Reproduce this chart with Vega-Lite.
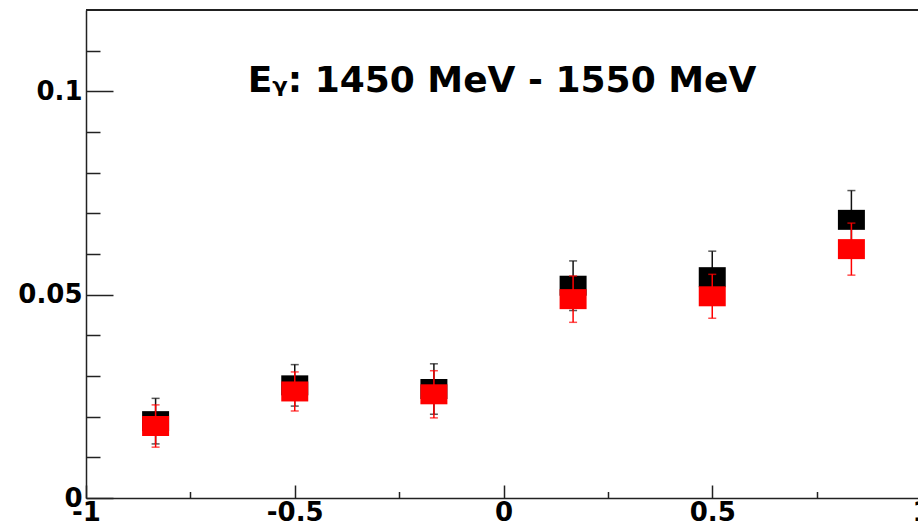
{
  "$schema": "https://vega.github.io/schema/vega-lite/v6.json",
  "autosize": {"type": "none"},
  "padding": {"left": 86, "top": 10, "right": 0, "bottom": 29},
  "width": 832,
  "height": 488,
  "background": "white",
  "config": {"view": {"stroke": null}},
  "title": {
    "text": "Eᵧ: 1450 MeV - 1550 MeV",
    "font": "DejaVu Sans",
    "fontSize": 36,
    "fontWeight": "bold",
    "color": "#000000",
    "anchor": "middle",
    "frame": "group",
    "baseline": "alphabetic",
    "offset": -119
  },
  "data": {
    "values": [
      {"cos": -0.8333, "series": "s1", "value": 0.0189, "error": 0.0056},
      {"cos": -0.5, "series": "s1", "value": 0.0277, "error": 0.0051},
      {"cos": -0.1667, "series": "s1", "value": 0.0268, "error": 0.0062},
      {"cos": 0.1667, "series": "s1", "value": 0.0522, "error": 0.0061},
      {"cos": 0.5, "series": "s1", "value": 0.0543, "error": 0.0064},
      {"cos": 0.8333, "series": "s1", "value": 0.0684, "error": 0.0072},
      {"cos": -0.8333, "series": "s2", "value": 0.0177, "error": 0.0052},
      {"cos": -0.5, "series": "s2", "value": 0.0262, "error": 0.0048},
      {"cos": -0.1667, "series": "s2", "value": 0.0255, "error": 0.0058},
      {"cos": 0.1667, "series": "s2", "value": 0.0489, "error": 0.0057},
      {"cos": 0.5, "series": "s2", "value": 0.0496, "error": 0.0054},
      {"cos": 0.8333, "series": "s2", "value": 0.0612, "error": 0.0064}
    ]
  },
  "resolve": {"axis": {"x": "independent", "y": "independent"}},
  "layer": [
    {
      "transform": [{"filter": "datum.series === 's1'"}],
      "mark": {"type": "errorbar", "color": "#111111", "thickness": 1.5, "ticks": {"size": 8, "thickness": 1.5, "color": "#111111"}},
      "encoding": {
        "x": {"field": "cos", "type": "quantitative", "scale": {"domain": [-1, 1], "range": [0, 835], "nice": false}, "axis": null},
        "y": {"field": "value", "type": "quantitative", "scale": {"domain": [0, 0.12], "nice": false}, "axis": null},
        "yError": {"field": "error"}
      }
    },
    {
      "transform": [{"filter": "datum.series === 's1'"}],
      "mark": {"type": "point", "shape": "M-1.35,-1H1.35V1H-1.35Z", "size": 400, "filled": true, "opacity": 1, "color": "#000000"},
      "encoding": {
        "x": {"field": "cos", "type": "quantitative", "scale": {"domain": [-1, 1], "range": [0, 835], "nice": false},
          "axis": {"orient": "bottom", "values": [-0.75, -0.25, 0.25, 0.75], "tickSize": -6.5, "tickWidth": 1.5, "tickColor": "#222222", "labels": false, "domain": false, "grid": false, "title": null}},
        "y": {"field": "value", "type": "quantitative", "scale": {"domain": [0, 0.12], "nice": false},
          "axis": {"orient": "left", "values": [0.01, 0.02, 0.03, 0.04, 0.06, 0.07, 0.08, 0.09, 0.11], "tickSize": -14, "tickWidth": 1.5, "tickColor": "#222222", "labels": false, "domain": false, "grid": false, "title": null}}
      }
    },
    {
      "transform": [{"filter": "datum.series === 's2'"}],
      "mark": {"type": "point", "shape": "M-1.35,-1H1.35V1H-1.35Z", "size": 400, "filled": true, "opacity": 1, "color": "#ff0000"},
      "encoding": {
        "x": {"field": "cos", "type": "quantitative", "scale": {"domain": [-1, 1], "range": [0, 835], "nice": false},
          "axis": {"orient": "bottom", "values": [-1, -0.5, 0, 0.5, 1], "tickSize": -13, "tickWidth": 1.5, "tickColor": "#222222", "domainColor": "#222222", "domainWidth": 1.5, "labelFont": "DejaVu Sans", "labelFontWeight": "bold", "labelFontSize": 26, "labelColor": "#000000", "labelPadding": 14, "labelExpr": "'' + datum.value", "labelFlush": false, "labelOverlap": false, "grid": false, "title": null}},
        "y": {"field": "value", "type": "quantitative", "scale": {"domain": [0, 0.12], "nice": false},
          "axis": {"orient": "left", "values": [0, 0.05, 0.1], "tickSize": -27, "tickWidth": 1.5, "tickColor": "#222222", "domainColor": "#222222", "domainWidth": 1.5, "labelFont": "DejaVu Sans", "labelFontWeight": "bold", "labelFontSize": 26, "labelColor": "#000000", "labelPadding": 31, "labelExpr": "'' + datum.value", "labelFlush": false, "labelOverlap": false, "grid": false, "title": null}}
      }
    },
    {
      "transform": [{"filter": "datum.series === 's2'"}],
      "mark": {"type": "errorbar", "color": "#ff0000", "thickness": 1.5, "ticks": {"size": 8, "thickness": 1.5, "color": "#ff0000"}},
      "encoding": {
        "x": {"field": "cos", "type": "quantitative", "scale": {"domain": [-1, 1], "range": [0, 835], "nice": false}, "axis": null},
        "y": {"field": "value", "type": "quantitative", "scale": {"domain": [0, 0.12], "nice": false}, "axis": null},
        "yError": {"field": "error"}
      }
    },
    {
      "mark": {"type": "rule", "color": "#222222", "strokeWidth": 1.5},
      "encoding": {
        "y": {"datum": 0.12, "scale": {"domain": [0, 0.12], "nice": false}, "axis": null}
      }
    }
  ]
}
